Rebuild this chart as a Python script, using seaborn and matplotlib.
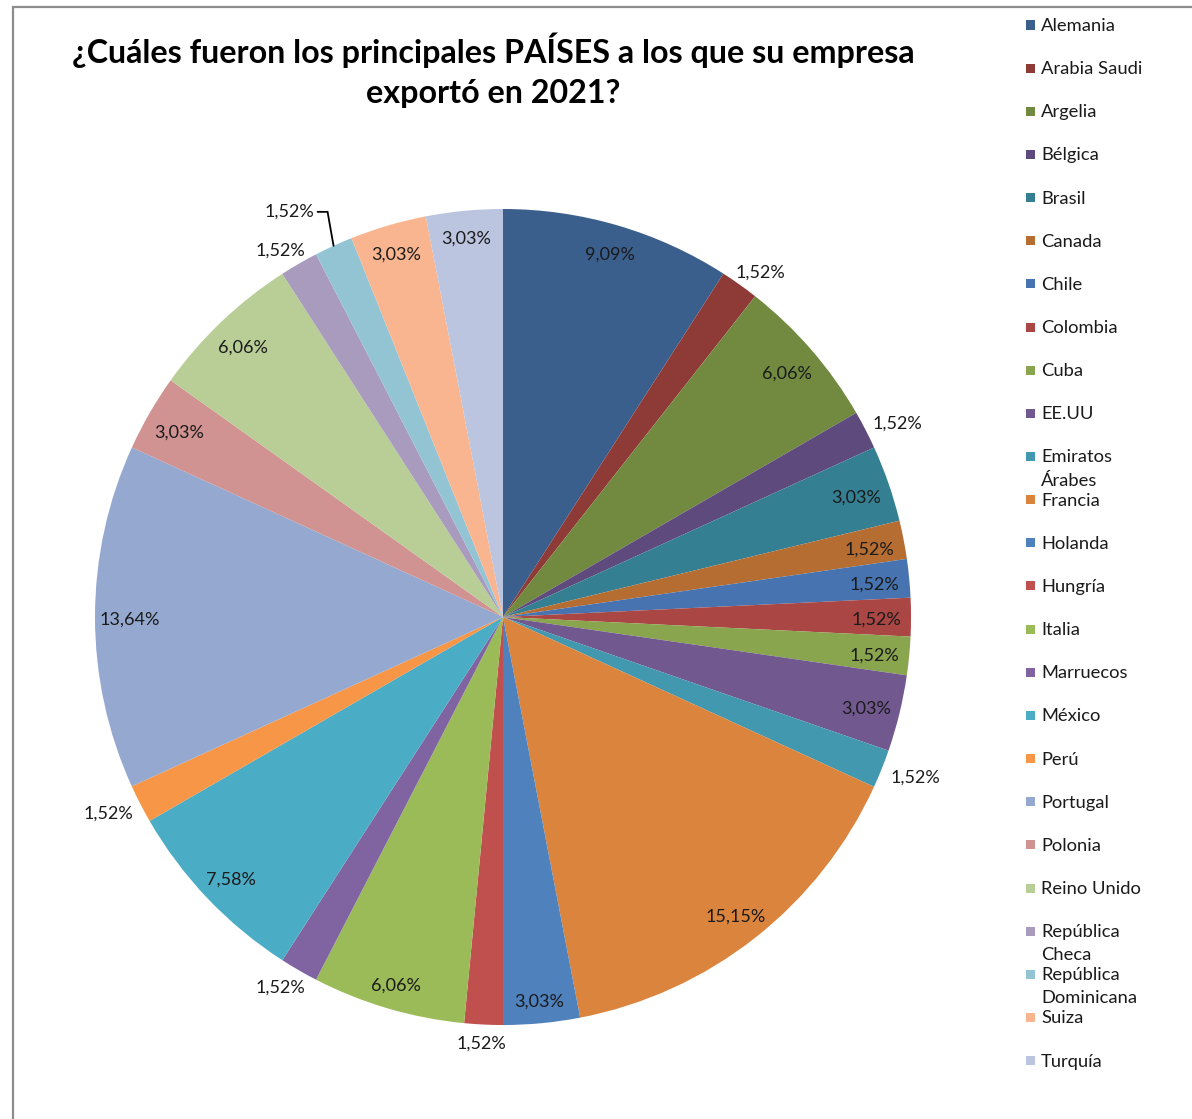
import numpy as np
import matplotlib
matplotlib.use("Agg")
import matplotlib.pyplot as plt
import seaborn as sns

sns.set_theme(style="white")
plt.rcParams['font.family'] = ['Lato', 'DejaVu Sans']

# ---- data ----
countries = ["Alemania", "Arabia Saudi", "Argelia", "Bélgica", "Brasil", "Canada",
             "Chile", "Colombia", "Cuba", "EE.UU", "Emiratos\nÁrabes", "Francia",
             "Holanda", "Hungría", "Italia", "Marruecos", "México", "Perú",
             "Portugal", "Polonia", "Reino Unido", "República\nCheca",
             "República\nDominicana", "Suiza", "Turquía"]
percent = [9.09, 1.52, 6.06, 1.52, 3.03, 1.52, 1.52, 1.52, 1.52, 3.03, 1.52, 15.15,
           3.03, 1.52, 6.06, 1.52, 7.58, 1.52, 13.64, 3.03, 6.06, 1.52, 1.52, 3.03, 3.03]
label_place = ["in", "out", "in", "out", "in", "in", "in", "in", "in", "in", "out", "in",
               "in", "out", "in", "out", "in", "out", "in", "in", "in", "out", "lead", "in", "in"]
colors = ["#3B5F8C", "#8E3B38", "#728A40", "#5E4A7C", "#357F93", "#B66D31",
          "#4774B0", "#AA4644", "#89A54E", "#71588F", "#4198AF", "#DB843D",
          "#4F81BD", "#C0504D", "#9BBB59", "#8064A2", "#4BACC6", "#F79646",
          "#95A9D0", "#D09392", "#B9CE96", "#A89BBE", "#93C4D4", "#F9B590", "#BCC5DF"]
title = "¿Cuáles fueron los principales PAÍSES a los que su empresa\nexportó en 2021?"

W, H = 1192, 1119
fig = plt.figure(figsize=(W / 100, H / 100), dpi=100)
fig.patch.set_facecolor("white")

# chart border (gray frame, extends beyond right/bottom)
border = plt.Rectangle((13 / W, -0.01), 1.2, 1 - 7 / H + 0.01, transform=fig.transFigure,
                       fill=False, edgecolor="#8C8C8C", linewidth=1.6)
fig.add_artist(border)

cx, cy, R = 503, 617, 408
ax = fig.add_axes([(cx - R) / W, (H - cy - R) / H, 2 * R / W, 2 * R / H])
wedges, _ = ax.pie(percent, colors=colors, startangle=90, counterclock=False,
                   radius=1.0, wedgeprops=dict(linewidth=0))
ax.set_xlim(-1, 1)
ax.set_ylim(-1, 1)
ax.set_aspect("equal")
ax.axis("off")

px = 1.0 / R
lab_fs = 13
for w, v, place in zip(wedges, percent, label_place):
    ang = np.deg2rad((w.theta1 + w.theta2) / 2)
    c, s = np.cos(ang), np.sin(ang)
    txt = f"{v:.2f}".replace(".", ",") + "%"
    if place == "in":
        r = 1 - (24 + 11 * abs(c)) * px
        ax.text(r * c, r * s - 3 * px, txt, ha="center", va="center",
                fontsize=lab_fs, color="#1a1a1a", clip_on=False)
    elif place == "out":
        r = 1.02
        x = r * c + c * 28 * px
        y = r * s + s * 9 * px - 2 * px
        ax.text(x, y, txt, ha="center", va="center", fontsize=lab_fs,
                color="#1a1a1a", clip_on=False)
    else:
        ex, ey = c * 1.0, s * 1.0
        elx, ely = ex - 6 * px, ey + 34 * px
        hx = elx - 10 * px
        ax.plot([ex, elx, hx], [ey, ely, ely], color="black", lw=1.3, clip_on=False,
                solid_joinstyle="miter")
        ax.text(hx - 3 * px, ely, txt, ha="right", va="center", fontsize=lab_fs,
                color="#1a1a1a", clip_on=False)

fig.text(493 / W, 1 - 70 / H, title, ha="center", va="center", fontsize=23.2,
         fontweight="bold", color="black", linespacing=1.45)

# legend drawn manually (fixed slot spacing like the original)
y0, dy = 26, 43.15
for i, (name, col) in enumerate(zip(countries, colors)):
    yc = y0 + i * dy
    fig.add_artist(plt.Rectangle((1026 / W, 1 - (yc + 4.5 - 1) / H), 9 / W, 9 / H,
                                 transform=fig.transFigure, facecolor=col, edgecolor="none"))
    lines = name.split("\n")
    for j, ln in enumerate(lines):
        fig.text(1041 / W, 1 - (yc + j * 23) / H, ln, ha="left", va="center",
                 fontsize=13.2, color="#1a1a1a")

fig.savefig("out.png", dpi=100, facecolor="white")
